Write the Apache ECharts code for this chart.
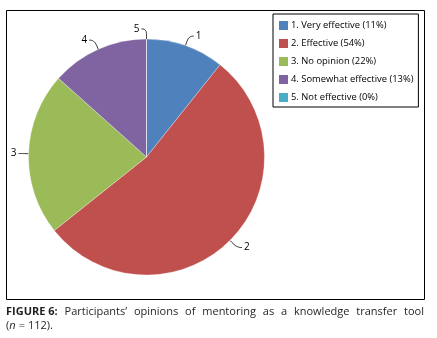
<!DOCTYPE html>
<html><head><meta charset="utf-8">
<script src="https://cdn.jsdelivr.net/npm/echarts@6/dist/echarts.min.js"></script>
<style>html,body{margin:0;padding:0;background:#fff}#c{width:437px;height:338px}</style>
</head><body><div id="c"></div>
<script>
const categories = ['1. Very effective (11%)','2. Effective (54%)','3. No opinion (22%)','4. Somewhat effective (13%)','5. Not effective (0%)'];
const sliceLabels = ['1','2','3','4','5'];
const counts = [12, 60, 25, 15, 0];
const colors = ['#4F81BD','#C0504D','#9BBB59','#8064A2','#4BACC6'];
const captionBold = 'FIGURE 6:';
const captionLine1 = 'Participants’ opinions of mentoring as a knowledge transfer tool';
const captionLine2 = ' = 112).';

const font = 'Open Sans';
const capSize = 11;
const capColor = '#231F20';

// justify first caption line across the frame width
const cv = document.createElement('canvas').getContext('2d');
function w(t, bold){ cv.font = (bold?'bold ':'') + capSize + 'px "' + font + '"'; return cv.measureText(t).width; }
const words = [{t:captionBold,b:true}].concat(captionLine1.split(' ').map(t=>({t,b:false})));
const lineLeft = 6, lineRight = 424;
const totalW = words.reduce((s,x)=>s+w(x.t,x.b),0);
const gap = (lineRight - lineLeft - totalW) / (words.length - 1);
const capEls = [];
let xx = lineLeft;
words.forEach(x=>{
  capEls.push({type:'text', x:xx, y:306, style:{text:x.t, fontFamily:font, fontSize:capSize, fontWeight:x.b?'bold':'normal', fill:capColor}});
  xx += w(x.t,x.b) + gap;
});

const chart = echarts.init(document.getElementById('c'), null, {renderer:'canvas'});
chart.setOption({
  animation:false,
  color: colors,
  legend:{
    orient:'vertical', left:273, top:14,
    borderColor:'#000', borderWidth:1, padding:[5,5,3,4],
    itemWidth:11, itemHeight:11, itemGap:5, icon:'rect',
    textStyle:{fontFamily:font, fontSize:9.4, color:'#000', padding:[0,0,0,-3], lineHeight:11},
    data: categories
  },
  graphic:[
    {type:'rect', shape:{x:6.5,y:10.5,width:418,height:289}, style:{fill:'none',stroke:'#000',lineWidth:1}, silent:true}
  ].concat(capEls).concat([
    {type:'text', x:6, y:320, style:{text:'(', fontFamily:font, fontSize:capSize, fill:capColor}},
    {type:'text', x:6 + w('('), y:320, style:{text:'n', fontFamily:font, fontSize:capSize, fontStyle:'italic', fill:capColor}},
    {type:'text', x:6 + w('(') + w('n'), y:320, style:{text:captionLine2, fontFamily:font, fontSize:capSize, fill:capColor}}
  ]),
  series:[{
    type:'pie', center:[146.5,157], radius:118, startAngle:90, clockwise:true,
    avoidLabelOverlap:false,
    itemStyle:{borderColor:'#fff', borderWidth:0.3},
    label:{show:true, formatter:p=>sliceLabels[p.dataIndex], fontFamily:font, fontSize:10, color:'#000', distanceToLabelLine:2},
    labelLine:{show:true, length:10, length2:5, smooth:0.5, lineStyle:{color:'#000', width:0.8}},
    emphasis:{disabled:true},
    data: categories.map((c,i)=>{
      const d = {name:c, value:counts[i]};
      if (i === 2) d.labelLine = {length:6, length2:4};
      return d;
    })
  }]
});
</script></body></html>
